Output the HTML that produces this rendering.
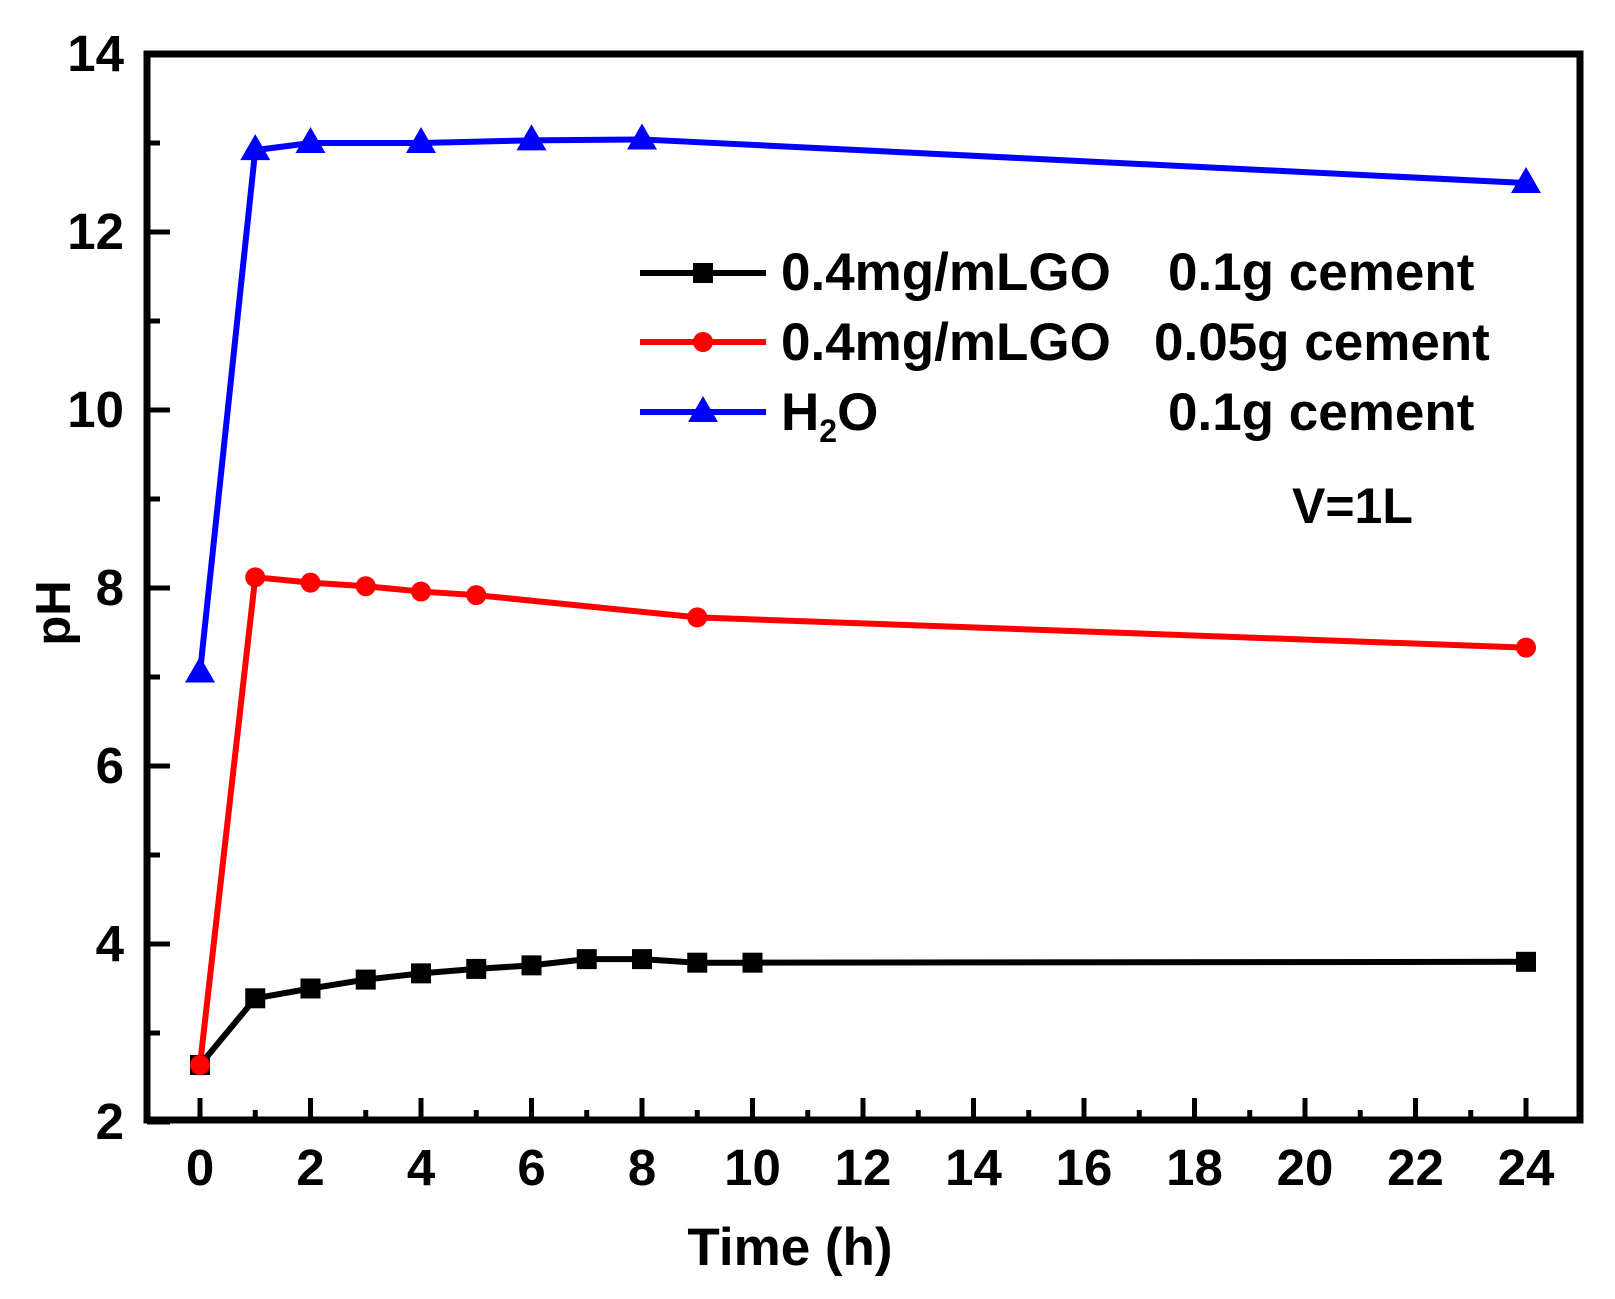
<!DOCTYPE html>
<html><head><meta charset="utf-8"><style>
html,body{margin:0;padding:0;background:#fff;}
svg{display:block;}
text{font-family:"Liberation Sans",Arial,sans-serif;font-weight:bold;fill:#000;}
</style></head><body>
<svg width="1615" height="1299" viewBox="0 0 1615 1299" xmlns="http://www.w3.org/2000/svg">
<rect width="1615" height="1299" fill="#fff"/>
<text x="781" y="430" font-size="53">H<tspan font-size="32" dy="12">2</tspan><tspan dy="-12">O</tspan></text>
<script>
(function(){
var ns="http://www.w3.org/2000/svg";
var svg=document.currentScript.parentNode;
function X(h){return 200+55.25*h;}
function Y(p){return 1122-89*(p-2);}
function el(n,a,p){var e=document.createElementNS(ns,n);for(var k in a)e.setAttribute(k,a[k]);(p||svg).appendChild(e);return e;}
for(var h=0;h<=25;h++){var x=X(h);var maj=h%2==0;if(x>1578)break;
 el('line',{x1:x,y1:1120,x2:x,y2:maj?1098:1110,stroke:'#000','stroke-width':5});
 if(maj&&h<=24){var t=el('text',{x:x,y:1185,'text-anchor':'middle','font-size':51});t.textContent=h;}
}
for(var p=2;p<=14;p++){var y=Y(p);var maj=p%2==0;
 el('line',{x1:147,y1:y,x2:maj?170:160,y2:y,stroke:'#000','stroke-width':5});
 if(maj){var t=el('text',{x:124,y:y+17,'text-anchor':'end','font-size':51});t.textContent=p;}
}
el('rect',{x:147,y:54,width:1433,height:1066,fill:'none',stroke:'#000','stroke-width':7});
var black=[[0,2.64],[1,3.39],[2,3.5],[3,3.6],[4,3.67],[5,3.72],[6,3.76],[7,3.83],[8,3.83],[9,3.79],[10,3.79],[24,3.8]];
var red=[[0,2.64],[1,8.12],[2,8.06],[3,8.02],[4,7.96],[5,7.92],[9,7.67],[24,7.33]];
var blue=[[0,7.05],[1,12.92],[2,13.0],[4,13.0],[6,13.03],[8,13.04],[24,12.55]];
function pts(d){return d.map(function(a){return X(a[0])+','+Y(a[1]);}).join(' ');}
function tri(x,y,c){el('polygon',{points:(x)+','+(y-16)+' '+(x-15)+','+(y+10)+' '+(x+15)+','+(y+10),fill:c});}
el('polyline',{points:pts(blue),fill:'none',stroke:'#0000ff','stroke-width':6});
blue.forEach(function(a){tri(X(a[0]),Y(a[1]),'#0000ff');});
el('polyline',{points:pts(red),fill:'none',stroke:'#ff0000','stroke-width':6});
red.forEach(function(a){el('circle',{cx:X(a[0]),cy:Y(a[1]),r:10,fill:'#ff0000'});});
el('polyline',{points:pts(black),fill:'none',stroke:'#000','stroke-width':6});
black.forEach(function(a){el('rect',{x:X(a[0])-10,y:Y(a[1])-10,width:20,height:20,fill:'#000'});});
el('circle',{cx:X(0),cy:Y(2.64),r:10,fill:'#ff0000'});
el('line',{x1:640,y1:273,x2:766,y2:273,stroke:'#000','stroke-width':6});
el('rect',{x:693,y:263,width:20,height:20,fill:'#000'});
el('line',{x1:640,y1:342,x2:766,y2:342,stroke:'#ff0000','stroke-width':6});
el('circle',{cx:703,cy:342,r:10,fill:'#ff0000'});
el('line',{x1:640,y1:412,x2:766,y2:412,stroke:'#0000ff','stroke-width':6});
tri(703,412,'#0000ff');
function txt(s,x,y,fs,anc){var t=el('text',{x:x,y:y,'font-size':fs});if(anc)t.setAttribute('text-anchor',anc);t.textContent=s;return t;}
txt('0.4mg/mLGO',781,290,53);txt('0.1g cement',1168,290,53);
txt('0.4mg/mLGO',781,360,53);txt('0.05g cement',1154,360,53);
txt('0.1g cement',1168,430,53);
txt('V=1L',1292,523,50);
txt('Time (h)',790,1265,53,'middle');
var ph=el('text',{x:0,y:0,'font-size':49,'text-anchor':'middle',transform:'translate(70,613) rotate(-90)'});ph.textContent='pH';
})();
</script>
</svg>
</body></html>
